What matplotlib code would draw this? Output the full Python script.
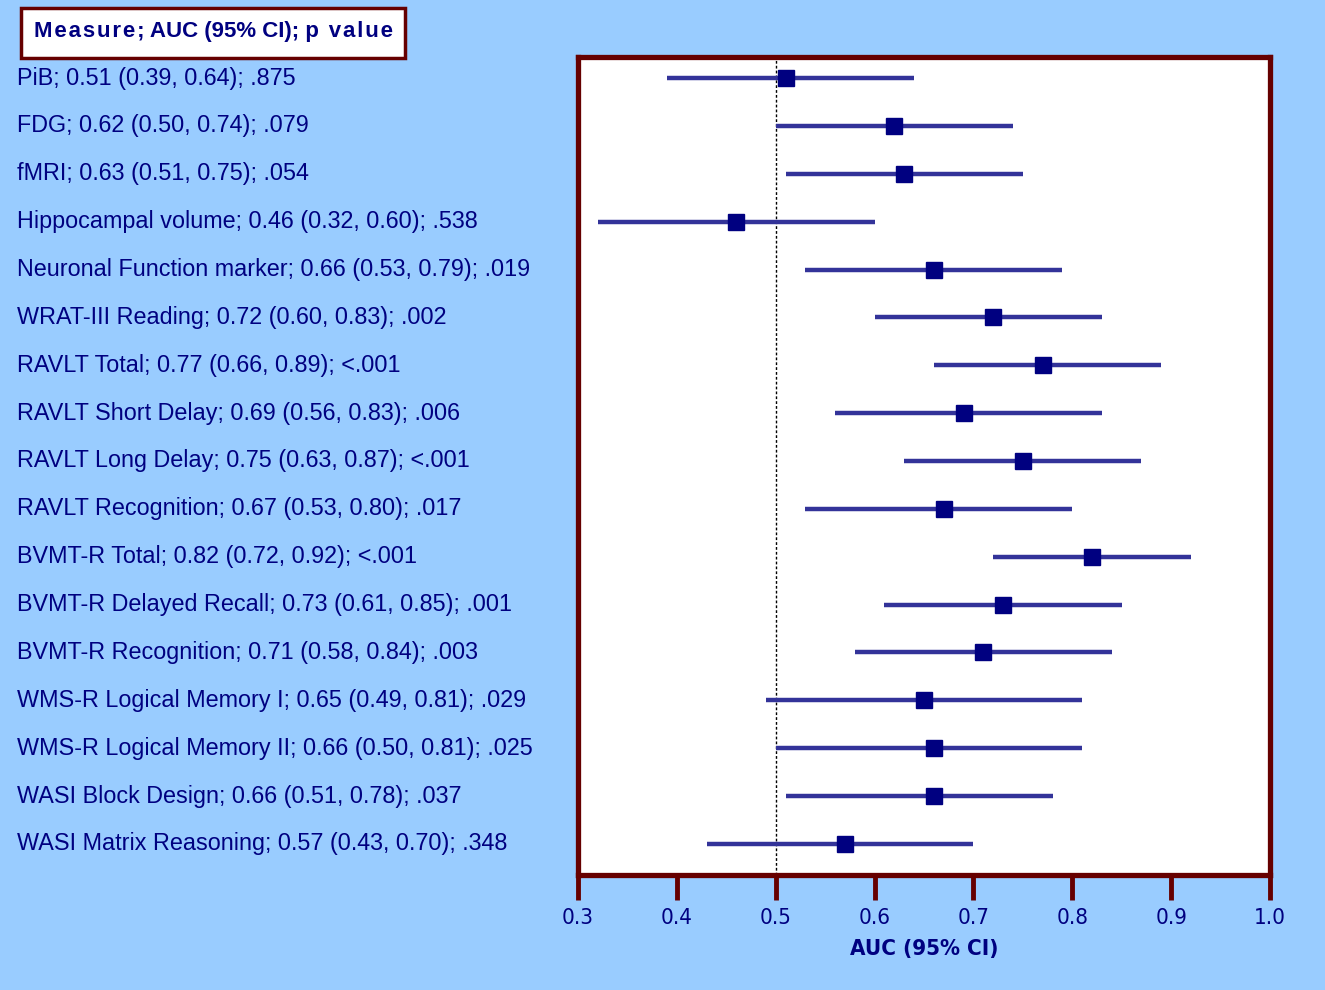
import matplotlib
matplotlib.use("Agg")
import matplotlib.pyplot as plt
from matplotlib.patches import Rectangle
import matplotlib.transforms as mtransforms

measures = ["PiB", "FDG", "fMRI", "Hippocampal volume", "Neuronal Function marker",
            "WRAT-III Reading", "RAVLT Total", "RAVLT Short Delay", "RAVLT Long Delay",
            "RAVLT Recognition", "BVMT-R Total", "BVMT-R Delayed Recall",
            "BVMT-R Recognition", "WMS-R Logical Memory I", "WMS-R Logical Memory II",
            "WASI Block Design", "WASI Matrix Reasoning"]
auc = [0.51, 0.62, 0.63, 0.46, 0.66, 0.72, 0.77, 0.69, 0.75, 0.67, 0.82, 0.73,
       0.71, 0.65, 0.66, 0.66, 0.57]
ci_low = [0.39, 0.50, 0.51, 0.32, 0.53, 0.60, 0.66, 0.56, 0.63, 0.53, 0.72, 0.61,
          0.58, 0.49, 0.50, 0.51, 0.43]
ci_high = [0.64, 0.74, 0.75, 0.60, 0.79, 0.83, 0.89, 0.83, 0.87, 0.80, 0.92, 0.85,
           0.84, 0.81, 0.81, 0.78, 0.70]
p_values = [".875", ".079", ".054", ".538", ".019", ".002", "<.001", ".006", "<.001",
            ".017", "<.001", ".001", ".003", ".029", ".025", ".037", ".348"]
x_ticks = [0.3, 0.4, 0.5, 0.6, 0.7, 0.8, 0.9, 1.0]
x_ticklabels = ["0.3", "0.4", "0.5", "0.6", "0.7", "0.8", "0.9", "1.0"]

BG = "#99CCFF"
DARKRED = "#660000"
NAVY = "#000080"
BAR = "#333399"

plt.rcParams['font.family'] = ['Liberation Sans', 'DejaVu Sans']
NARROW = ['Liberation Sans Narrow', 'DejaVu Sans']

fig = plt.figure(figsize=(13.25, 9.9), dpi=100, facecolor=BG)
ax = fig.add_axes([578/1325, 1-875/990, (1270-578)/1325, (875-57)/990])
ax.set_facecolor("white")

n = len(measures)
ys = list(range(n))
for y, lo, hi in zip(ys, ci_low, ci_high):
    ax.plot([lo, hi], [y, y], color=BAR, lw=3.2, solid_capstyle="butt", zorder=2)
ax.plot(auc, ys, linestyle="none", marker="s", markersize=12, color=NAVY, zorder=3)
ax.axvline(0.5, color="black", lw=1.0, linestyle=(0, (2, 1.5)), zorder=1)

ax.set_xlim(0.3, 1.0)
ax.set_ylim(n - 1 + 0.65, -0.44)
ax.set_yticks([])
ax.set_xticks(x_ticks)
ax.set_xticklabels(x_ticklabels, fontsize=16, color=NAVY,
                   fontfamily=NARROW, fontstretch='condensed')
ax.tick_params(axis="x", direction="out", length=18, width=3.5, color=DARKRED, pad=6)
for s in ax.spines.values():
    s.set_color(DARKRED)
    s.set_linewidth(3.8)
ax.set_xlabel("AUC (95% CI)", fontsize=16, fontweight="bold", color=NAVY, labelpad=8,
              fontfamily=NARROW, fontstretch='condensed')

trans = mtransforms.blended_transform_factory(fig.transFigure, ax.transData)
for y, m, a, lo, hi, p in zip(ys, measures, auc, ci_low, ci_high, p_values):
    label = f"{m}; {a:.2f} ({lo:.2f}, {hi:.2f}); {p}"
    ax.text(17/1325, y, label, transform=trans, fontsize=16.8, color=NAVY,
            ha="left", va="center", clip_on=False)

# header box
fig.patches.append(Rectangle((21/1325, 1-58/990), (405-21)/1325, (58-8)/990,
                             transform=fig.transFigure, facecolor="white",
                             edgecolor=DARKRED, linewidth=2.5))
hs = "\u200a"
header = hs.join("Measure;") + " AUC (95% CI); " + hs.join("p value")
fig.text(213/1325, 1-31/990, header, fontsize=16, fontweight="bold", color=NAVY,
         ha="center", va="center")

fig.savefig("out.png", dpi=100, facecolor=BG)
